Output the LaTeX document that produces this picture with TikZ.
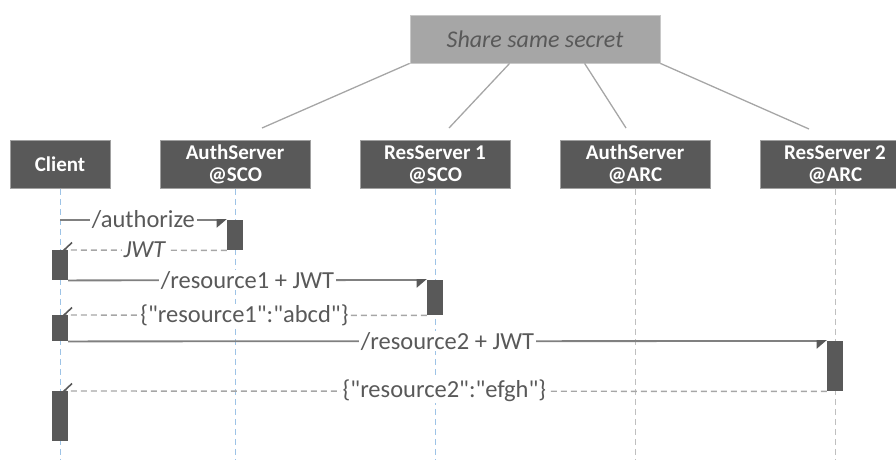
\documentclass[tikz,border=0pt]{standalone}
\usepackage{fontspec}
\setmainfont{Carlito}[Ligatures=TeXOff]
\usetikzlibrary{arrows.meta}
\definecolor{hdrfill}{HTML}{595959}
\definecolor{hdredge}{HTML}{A0A0A0}
\definecolor{secretfill}{HTML}{A6A6A6}
\definecolor{secretedge}{HTML}{C8C8C8}
\definecolor{txt}{HTML}{595959}
\definecolor{callline}{HTML}{808080}
\definecolor{retline}{HTML}{A6A6A6}
\definecolor{lifeblue}{HTML}{9DC3E6}
\definecolor{lifegray}{HTML}{BFBFBF}
\definecolor{linkline}{HTML}{A6A6A6}

% y runs downwards here, so the upper half of a head is its "right" half
\tikzset{
  hdrbox/.style={draw=hdredge, line width=0.8pt, fill=hdrfill, text=white,
    align=center, minimum height=48pt, inner sep=0pt,
    font=\fontsize{21}{22}\selectfont\bfseries},
  secretbox/.style={draw=secretedge, line width=0.8pt, fill=secretfill, text=txt,
    minimum width=250pt, minimum height=48pt, inner sep=0pt,
    font=\fontsize{24}{26}\selectfont\itshape},
  lifeline/.style={dash pattern=on 6pt off 4pt, line width=1pt},
  actbar/.style={fill=hdrfill, draw=none, minimum width=16pt, inner sep=0pt, anchor=north},
  callmsg/.style={draw=callline, line width=1.8pt,
    -{Triangle[right, length=9pt, width=15pt, fill=hdrfill, color=hdrfill]}},
  retmsg/.style={draw=retline, line width=1.4pt, dash pattern=on 6pt off 4pt,
    -{Straight Barb[right, length=8pt, width=15pt, line width=1.6pt, color=hdrfill]}},
  lbl/.style={fill=white, text=txt, inner xsep=2pt, inner ysep=1pt,
    font=\fontsize{24.5}{26}\selectfont},
  link/.style={draw=linkline, line width=1.3pt},
}

\begin{document}
\begin{tikzpicture}[x=1pt, y=-1pt]
\useasboundingbox (0,0) rectangle (896,459);

% shared secret and its links to the servers
\node[secretbox] (secret) at (535,39) {Share same secret};
\coordinate (t1) at (262,128);
\coordinate (t2) at (449,128);
\coordinate (t3) at (626,128);
\coordinate (t4) at (809,129);
\draw[link] (secret.south west) -- (t1);
\draw[link] ([xshift=100pt]secret.south west) -- (t2);
\draw[link] ([xshift=175pt]secret.south west) -- (t3);
\draw[link] (secret.south east) -- (t4);

% participants
\node[hdrbox, minimum width=100pt] (client) at (60,164.5) {Client};
\node[hdrbox, minimum width=150pt] (auth1) at (235,164.5) {AuthServer\\@SCO};
\node[hdrbox, minimum width=150pt] (res1) at (435,164.5) {ResServer 1\\@SCO};
\node[hdrbox, minimum width=150pt] (auth2) at (635,164.5) {AuthServer\\@ARC};
\node[hdrbox, minimum width=150pt] (res2) at (835,164.5) {ResServer 2\\@ARC};

% lifelines
\coordinate (e1) at (60,459);
\coordinate (e2) at (235,459);
\coordinate (e3) at (435,459);
\coordinate (e4) at (635,459);
\coordinate (e5) at (835,459);
\draw[lifeline, lifeblue] (client.south) -- (e1);
\draw[lifeline, lifeblue] (auth1.south) -- (e2);
\draw[lifeline, lifeblue] (res1.south) -- (e3);
\draw[lifeline, lifegray] (auth2.south) -- (e4);
\draw[lifeline, lifegray] (res2.south) -- (e5);

% activation bars
\node[actbar, minimum height=30pt] (b1) at (235,220) {};
\node[actbar, minimum height=30pt] (b2) at (60,250) {};
\node[actbar, minimum height=35pt] (b3) at (435,280) {};
\node[actbar, minimum height=26pt] (b4) at (60,315) {};
\node[actbar, minimum height=50pt] (b5) at (835,341) {};
\node[actbar, minimum height=50pt] (b6) at (60,391) {};

% messages
\draw[callmsg] (client.south |- b1.north) -- (b1.north west)
  node[lbl, midway] {/authorize};
\draw[retmsg] (b1.south west) -- ([xshift=2pt]b2.north)
  node[lbl, midway] {\itshape JWT};
\draw[callmsg] (b2.south east) -- (b3.north west)
  node[lbl, midway] {/resource1 + JWT};
\draw[retmsg] (b3.south west) -- ([xshift=2pt]b4.north)
  node[lbl, midway] {\{"resource1":"abcd"\}};
\draw[callmsg] (b4.south east) -- (b5.north west)
  node[lbl, midway] {/resource2 + JWT};
\draw[retmsg] (b5.south west) -- ([xshift=2pt]b6.north)
  node[lbl, midway] {\{"resource2":"efgh"\}};

% bars drawn again on top of the message lines
\foreach \b in {b1,b2,b3,b4,b5,b6}
  \fill[hdrfill] (\b.north west) rectangle (\b.south east);
\end{tikzpicture}
\end{document}
